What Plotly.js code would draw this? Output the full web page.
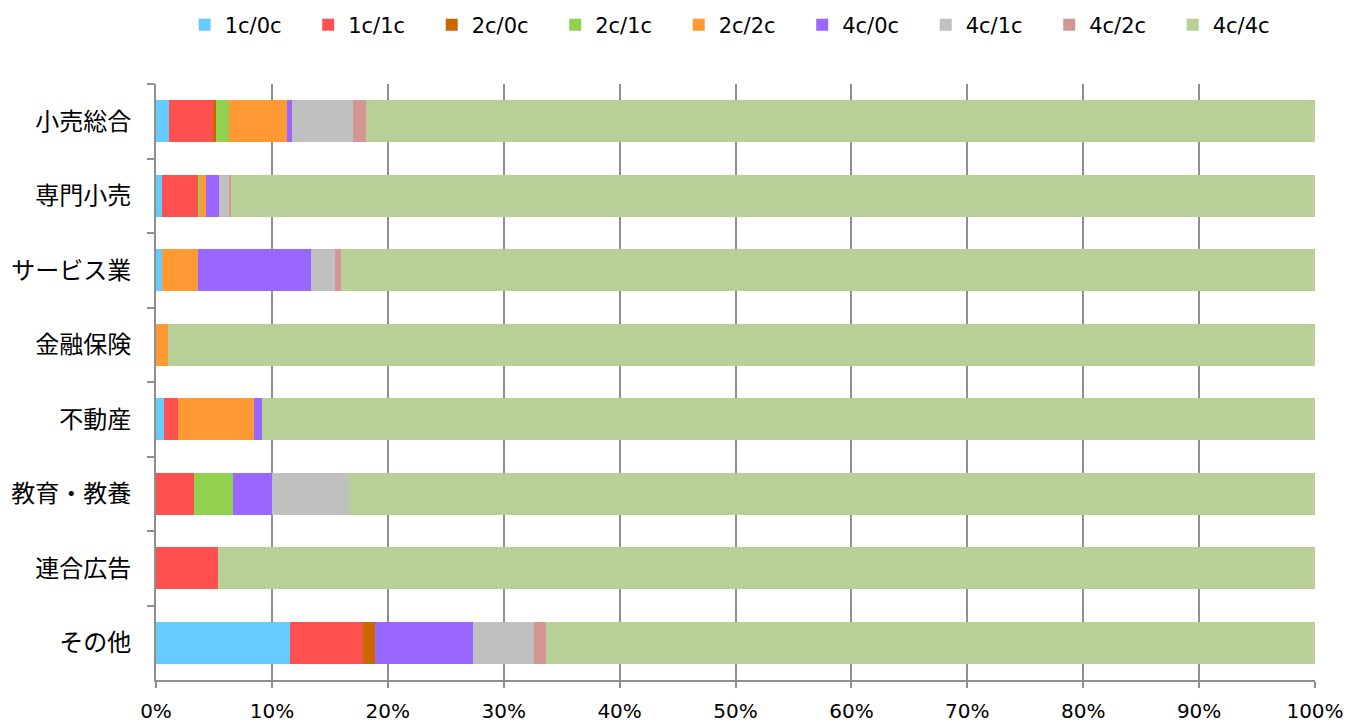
<!DOCTYPE html>
<html>
<head>
<meta charset="utf-8">
<script src="https://cdn.plot.ly/plotly-3.0.1.min.js"></script>
<style>html,body{margin:0;padding:0;background:#fff;}#chart{width:1347px;height:722px;}</style>
</head>
<body>
<div id="chart"></div>
<script>
const categories = ["小売総合","専門小売","サービス業","金融保険","不動産","教育・教養","連合広告","その他"];
const seriesNames = ["1c/0c","1c/1c","2c/0c","2c/1c","2c/2c","4c/0c","4c/1c","4c/2c","4c/4c"];
const s_1c0c = [1.12, 0.52, 0.49, 0, 0.66, 0, 0, 11.56];
const s_1c1c = [3.83, 3.10, 0, 0, 1.27, 3.28, 5.32, 6.33];
const s_2c0c = [0.20, 0, 0, 0, 0, 0, 0, 1.03];
const s_2c1c = [1.18, 0.15, 0, 0, 0, 3.36, 0, 0];
const s_2c2c = [4.97, 0.55, 3.10, 1.00, 6.55, 0, 0, 0];
const s_4c0c = [0.43, 1.13, 9.81, 0, 0.67, 3.34, 0, 8.43];
const s_4c1c = [5.24, 0.86, 2.04, 0, 0, 6.70, 0, 5.26];
const s_4c2c = [1.12, 0.17, 0.52, 0, 0, 0, 0, 1.04];
const s_4c4c = [81.91, 93.53, 84.04, 99.00, 90.85, 83.32, 94.68, 66.35];
const xTickVals = [0,10,20,30,40,50,60,70,80,90,100];
const xTickText = ["0%","10%","20%","30%","40%","50%","60%","70%","80%","90%","100%"];

const seriesValues = [s_1c0c,s_1c1c,s_2c0c,s_2c1c,s_2c2c,s_4c0c,s_4c1c,s_4c2c,s_4c4c];
const colors = ["#66CCFF","#FF5050","#CC6600","#92D050","#FF9933","#9966FF","#C0C0C0","#D39694","#B9CF98"];

const traces = seriesNames.map((name,i)=>({
  type:"bar",
  orientation:"h",
  name:name,
  y:categories,
  x:seriesValues[i],
  marker:{color:colors[i], line:{width:0}},
  hoverinfo:"name+x"
}));

const latin = "'DejaVu Sans', 'Noto Sans CJK JP', sans-serif";
const cjk = "'Noto Sans CJK JP', 'DejaVu Sans', sans-serif";
const layout = {
  width:1347, height:722,
  barmode:"stack",
  bargap:0.435,
  margin:{l:156, r:32, t:84, b:42, pad:0, autoexpand:false},
  paper_bgcolor:"#fff", plot_bgcolor:"#fff",
  font:{family:latin, size:20, color:"#000"},
  showlegend:true,
  legend:{
    orientation:"h", x:0.5045, xanchor:"center", y:1.0987, yanchor:"middle",
    entrywidth:78.5, entrywidthmode:"pixels",
    font:{family:latin, size:21, color:"#000"},
    traceorder:"normal", itemclick:false, itemdoubleclick:false
  },
  xaxis:{
    range:[0,100], tickvals:xTickVals, ticktext:xTickText,
    showgrid:true, gridcolor:"#8f8f8f", gridwidth:2,
    showline:true, linecolor:"#8f8f8f", linewidth:2,
    ticks:"outside", ticklen:6, tickwidth:2, tickcolor:"#8f8f8f",
    ticklabelstandoff:6,
    zeroline:false, fixedrange:true,
    tickfont:{family:latin, size:20, color:"#000"}
  },
  yaxis:{
    type:"category", categoryorder:"array", categoryarray:categories,
    autorange:"reversed",
    showgrid:false, showline:true, linecolor:"#8f8f8f", linewidth:2,
    ticks:"outside", tickson:"boundaries", ticklen:7, tickwidth:2, tickcolor:"#8f8f8f",
    ticklabelstandoff:18,
    zeroline:false, fixedrange:true,
    tickfont:{family:cjk, size:24, color:"#000"}
  }
};
Plotly.newPlot("chart", traces, layout, {displayModeBar:false, staticPlot:true});
</script>
</body>
</html>
